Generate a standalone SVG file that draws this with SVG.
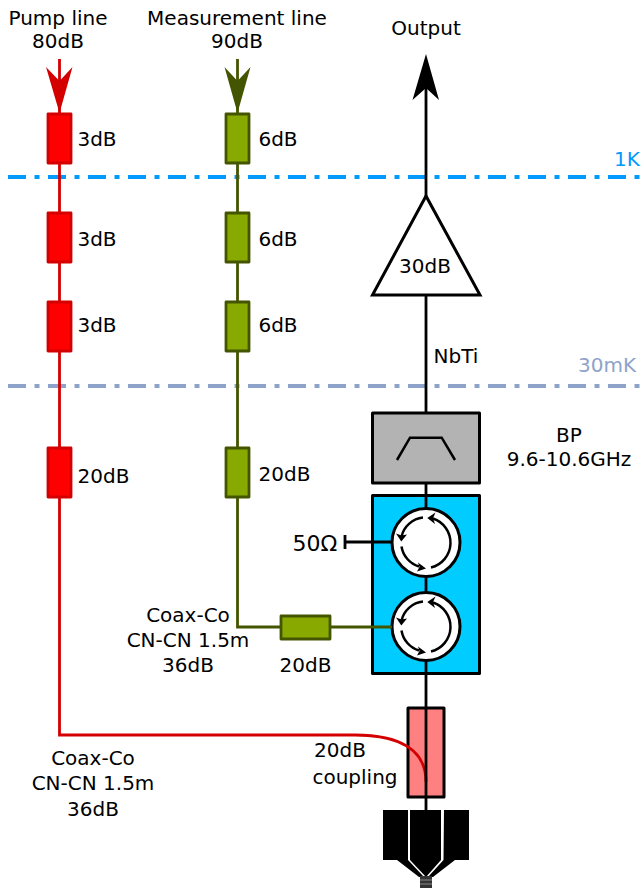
<svg xmlns="http://www.w3.org/2000/svg" xmlns:xlink="http://www.w3.org/1999/xlink" width="641" height="888" viewBox="0 0 641 888">
<style>
text{font-family:"DejaVu Sans",sans-serif;font-size:20px;fill:#000;text-anchor:middle}
.l{fill:none;stroke-width:2.8}
.k{stroke:#000}.r{stroke:#d40000}.g{stroke:#445500}
.ra{fill:#f00;stroke:#d40000;stroke-width:2.8;stroke-linejoin:round}
.ga{fill:#88aa00;stroke:#445500;stroke-width:2.8;stroke-linejoin:round}
.b{stroke:#000;stroke-width:3;stroke-linejoin:round}
.d{fill:none;stroke-width:4;stroke-dasharray:18 8.5 5 8.5}
.c{fill:#fff;stroke:#000;stroke-width:3}
.a{fill:none;stroke:#000;stroke-width:2.5}
</style>
<defs>
<g id="circ">
<circle class="c" r="34"/>
<path class="a" d="M5,25 A25.500,25.500 0 0 0 7,-24"/>
<path d="M1.300,-24.500L9.500,-30L7,-24.300L9,-18.500Z"/>
<path class="a" d="M-3,-25 A25,25 0 0 0 -24.500,-6"/>
<path d="M-24.700,-1L-30,-9L-24.500,-7L-19,-8Z"/>
<path class="a" d="M-24.500,4 A25,25 0 0 0 -7,24"/>
<path d="M0,26L-8,20L-6.500,24.500L-9,29Z"/>
</g>
</defs>
<g id="line-1K"><path class="d" stroke="#0099ff" d="M8,177H641"/><text x="627" y="166" style="fill:#0099ff">1K</text></g>
<g id="line-30mK"><path class="d" stroke="#8ea3c9" d="M8,386H641"/><text x="607" y="372" style="fill:#8ea3c9">30mK</text></g>
<g id="pump-label"><text x="58" y="25">Pump line</text><text x="58" y="48">80dB</text></g>
<g id="meas-label"><text x="237" y="25">Measurement line</text><text x="237" y="48">90dB</text></g>
<g id="output-label"><text x="426" y="35">Output</text></g>
<g id="pump-arrow"><path fill="#d40000" d="M59.500,113L46,67L59.500,81L72.500,67Z"/></g>
<g id="meas-arrow"><path fill="#445500" d="M237.500,113L224.500,67L237.500,81L250.500,67Z"/></g>
<g id="output-arrow"><path d="M426,54L412.500,100L426,88L439,100Z"/></g>
<g id="p1"><rect class="ra" x="48" y="114" width="23" height="49"/><text x="97" y="146">3dB</text></g>
<g id="p2"><rect class="ra" x="48" y="213" width="23" height="49"/><text x="97" y="246">3dB</text></g>
<g id="p3"><rect class="ra" x="48" y="302" width="23" height="49"/><text x="97" y="332">3dB</text></g>
<g id="p4"><rect class="ra" x="48" y="448" width="23" height="49"/><text x="103.500" y="483">20dB</text></g>
<g id="m1"><rect class="ga" x="226" y="114" width="23" height="49"/><text x="278" y="146">6dB</text></g>
<g id="m2"><rect class="ga" x="226" y="213" width="23" height="49"/><text x="278" y="246">6dB</text></g>
<g id="m3"><rect class="ga" x="226" y="302" width="23" height="49"/><text x="278" y="332">6dB</text></g>
<g id="m4"><rect class="ga" x="226" y="448" width="23" height="49"/><text x="284.500" y="481">20dB</text></g>
<g id="m5"><rect class="ga" x="281" y="616" width="49" height="23"/><text x="305.500" y="672">20dB</text></g>
<g id="coax-m"><text x="188" y="622">Coax-Co</text><text x="188" y="647">CN-CN 1.5m</text><text x="188" y="672">36dB</text></g>
<g id="coax-p"><text x="93" y="765">Coax-Co</text><text x="93" y="790">CN-CN 1.5m</text><text x="93" y="816">36dB</text></g>
<g id="amp"><path fill="#fff" stroke="#000" stroke-width="3" d="M426,196L372.500,295H480Z"/><text x="425" y="273">30dB</text></g>
<g id="nbti"><text x="456" y="363">NbTi</text></g>
<g id="bp"><rect class="b" fill="#b3b3b3" x="372.500" y="413" width="107" height="70"/><path class="a" d="M397,460L410,437.700H441.700L455,460"/><text x="569" y="442">BP</text><text x="569" y="466">9.6-10.6GHz</text></g>
<g id="circulators"><rect class="b" fill="#00ccff" x="372.500" y="495.500" width="107" height="178"/><use xlink:href="#circ" href="#circ" x="426" y="542.500"/><use xlink:href="#circ" href="#circ" x="426" y="626.500"/></g>
<g id="term"><text x="315" y="551" style="font-size:22px">50Ω</text></g>
<g id="coupler"><rect class="b" fill="#ff8080" x="408" y="708" width="36" height="89"/><text x="340" y="757">20dB</text><text x="355" y="784">coupling</text></g>
<g id="connector">
<path d="M383,810H408V860L424,877H419L397,860H383Z"/>
<path d="M410,810H441V860L426,877L410,860Z"/>
<path d="M444,810H469V860H455L433,877H428L443.500,860Z"/>
<rect x="420" y="876" width="12" height="12" fill="#333"/>
<path stroke="#888" stroke-width="1" d="M420,880H432M420,884H432"/>
</g>
<g id="connectors">
<path class="l r" d="M59.500,59V114M59.500,163V213M59.500,262V302M59.500,351V448M59.500,497V735H355C400,735 426,750 426,782"/>
<path class="l g" d="M237.500,59V114M237.500,163V213M237.500,262V302M237.500,351V448M237.500,497V627H281M330,627H392"/>
<path class="l k" d="M426,80V196M426,295V413M426,483V508M426,576V593M426,660V810M345,542H392M345,535V549"/>
</g>
</svg>
